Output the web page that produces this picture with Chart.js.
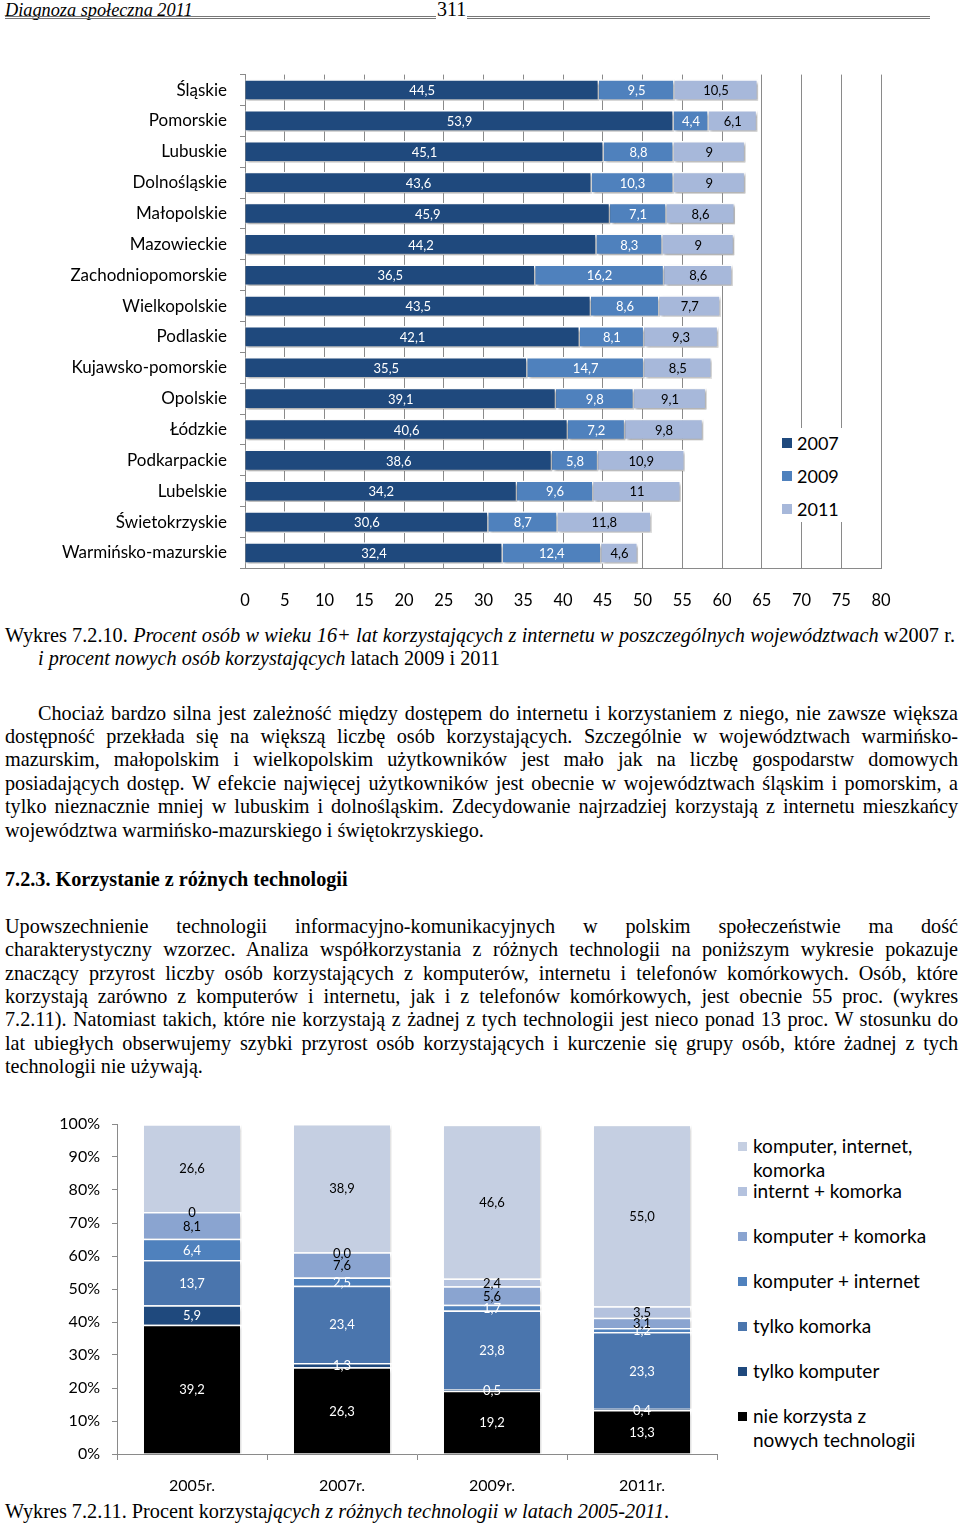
<!DOCTYPE html>
<html lang="pl">
<head>
<meta charset="UTF-8">
<title>Diagnoza społeczna 2011 - s. 311</title>
<script src="https://cdn.jsdelivr.net/npm/chart.js@4.4.0/dist/chart.umd.min.js"></script>
<style>
    html, body {
        margin: 0;
        padding: 0;
        background: #fff;
    }
    body {
        position: relative;
        width: 960px;
        height: 1524px;
        overflow: hidden;
        font-family: "Liberation Serif", "Times New Roman", serif;
        color: #000;
    }
    .abs { position: absolute; }
    .ln {
        position: absolute;
        left: 5px;
        width: 953px;
        height: 23px;
        line-height: 23px;
        font-size: 20.2px;
        text-align: justify;
        text-align-last: justify;
        white-space: nowrap;
    }
    .ln.last { text-align-last: left; }
    .ln.cap { font-size: 20.25px; }
    .rule {
        position: absolute;
        top: 16px;
        height: 1px;
        border-top: 1px solid #777;
        border-bottom: 1px solid #777;
    }
    .box { position: absolute; }
    .leg {
        position: absolute;
        font-family: Lato, "Open Sans", sans-serif;
        color: #000;
    }
    .leg .sw {
        position: absolute;
        display: block;
    }
</style>
</head>
<body>
    <!-- nagłówek strony -->
    <div class="abs" style="left:5px;top:0;font-size:18.3px;line-height:20px;font-style:italic;">Diagnoza społeczna 2011</div>
    <div class="abs" style="left:437px;top:-1px;font-size:20px;line-height:20px;">311</div>
    <div class="rule" style="left:5px;width:431px;"></div>
    <div class="rule" style="left:467px;width:463px;"></div>

    <!-- wykres 7.2.10 -->
    <div class="box" style="left:0;top:60px;width:900px;height:560px;"><canvas id="chart1"></canvas></div>
    <div class="leg" id="legend1" style="left:768px;top:428px;width:108px;height:94px;background:#fff;"></div>

    <div class="ln cap" style="top:624px;width:950px;">Wykres 7.2.10. <i>Procent osób w wieku 16+ lat korzystających z internetu w poszczególnych województwach</i> w2007 r.</div>
    <div class="ln cap last" style="top:647px;left:38px;"><i>i procent nowych osób korzystających</i> latach 2009 i 2011</div>

    <div class="ln" style="top:702px;left:38px;width:920px;">Chociaż bardzo silna jest zależność między dostępem do internetu i korzystaniem z niego, nie zawsze większa</div>
    <div class="ln" style="top:725px;">dostępność przekłada się na większą liczbę osób korzystających. Szczególnie w województwach warmińsko-</div>
    <div class="ln" style="top:748px;">mazurskim, małopolskim i wielkopolskim użytkowników jest mało jak na liczbę gospodarstw domowych</div>
    <div class="ln" style="top:772px;">posiadających dostęp. W efekcie najwięcej użytkowników jest obecnie w województwach śląskim i pomorskim, a</div>
    <div class="ln" style="top:795px;">tylko nieznacznie mniej w lubuskim i dolnośląskim. Zdecydowanie najrzadziej korzystają z internetu mieszkańcy</div>
    <div class="ln last" style="top:819px;">województwa warmińsko-mazurskiego i świętokrzyskiego.</div>

    <div class="ln last" style="top:868px;font-weight:bold;">7.2.3. Korzystanie z różnych technologii</div>

    <div class="ln" style="top:915px;">Upowszechnienie technologii informacyjno-komunikacyjnych w polskim społeczeństwie ma dość</div>
    <div class="ln" style="top:938px;">charakterystyczny wzorzec. Analiza współkorzystania z różnych technologii na poniższym wykresie pokazuje</div>
    <div class="ln" style="top:962px;">znaczący przyrost liczby osób korzystających z komputerów, internetu i telefonów komórkowych. Osób, które</div>
    <div class="ln" style="top:985px;">korzystają zarówno z komputerów i internetu, jak i z telefonów komórkowych, jest obecnie 55 proc. (wykres</div>
    <div class="ln" style="top:1008px;">7.2.11). Natomiast takich, które nie korzystają z żadnej z tych technologii jest nieco ponad 13 proc. W stosunku do</div>
    <div class="ln" style="top:1032px;">lat ubiegłych obserwujemy szybki przyrost osób korzystających i kurczenie się grupy osób, które żadnej z tych</div>
    <div class="ln last" style="top:1055px;">technologii nie używają.</div>

    <!-- wykres 7.2.11 -->
    <div class="box" style="left:0;top:1105px;width:720px;height:395px;"><canvas id="chart2"></canvas></div>
    <div class="leg" id="legend2" style="left:730px;top:1130px;width:230px;height:330px;"></div>

    <div class="ln cap last" style="top:1500px;">Wykres 7.2.11. Procent korzysta<i>jących z różnych technologii w latach 2005-2011</i>.</div>

<script>
    // --- Wykres 7.2.10: województwa ---
    const regions = ['Śląskie', 'Pomorskie', 'Lubuskie', 'Dolnośląskie', 'Małopolskie', 'Mazowieckie',
        'Zachodniopomorskie', 'Wielkopolskie', 'Podlaskie', 'Kujawsko-pomorskie', 'Opolskie', 'Łódzkie',
        'Podkarpackie', 'Lubelskie', 'Świetokrzyskie', 'Warmińsko-mazurskie'];
    const users2007 = [44.5, 53.9, 45.1, 43.6, 45.9, 44.2, 36.5, 43.5, 42.1, 35.5, 39.1, 40.6, 38.6, 34.2, 30.6, 32.4];
    const users2009 = [9.5, 4.4, 8.8, 10.3, 7.1, 8.3, 16.2, 8.6, 8.1, 14.7, 9.8, 7.2, 5.8, 9.6, 8.7, 12.4];
    const users2011 = [10.5, 6.1, 9, 9, 8.6, 9, 8.6, 7.7, 9.3, 8.5, 9.1, 9.8, 10.9, 11, 11.8, 4.6];
    const yearLabels = ['2007', '2009', '2011'];
    const yearColors = ['#1f497d', '#4f81bd', '#a7b8da'];
    const yearTextColors = ['#fff', '#fff', '#000'];

    // --- Wykres 7.2.11: technologie ---
    const periods = ['2005r.', '2007r.', '2009r.', '2011r.'];
    // od dołu słupka do góry
    const techNames = ['nie korzysta z nowych technologii', 'tylko komputer', 'tylko komorka',
        'komputer + internet', 'komputer + komorka', 'internt + komorka', 'komputer, internet, komorka'];
    const techNone      = [39.2, 26.3, 19.2, 13.3];
    const techPcOnly    = [5.9, 1.3, 0.5, 0.4];
    const techPhoneOnly = [13.7, 23.4, 23.8, 23.3];
    const techPcNet     = [6.4, 2.5, 1.7, 1.2];
    const techPcPhone   = [8.1, 7.6, 5.6, 3.1];
    const techNetPhone  = [0, 0.0, 2.4, 3.5];
    const techAll       = [26.6, 38.9, 46.6, 55.0];
    const techColors = ['#000000', '#1f497d', '#4a75ad', '#4f81bd', '#8aa4d0', '#b4c2de', '#c5cfe2'];
    const techTextColors = ['#fff', '#fff', '#fff', '#fff', '#000', '#000', '#000'];
    const percentTicks = ['0%', '10%', '20%', '30%', '40%', '50%', '60%', '70%', '80%', '90%', '100%'];

    const labelFont = '13px Lato, "Open Sans", sans-serif';
    const fontFamily = 'Lato, "Open Sans", sans-serif';
    const axisGray = '#8a8a8a';

    // podpisy wartości na środku segmentów
    const barLabels = {
        id: 'barLabels',
        afterDatasetsDraw(chart, args, opts) {
            const ctx = chart.ctx;
            ctx.save();
            ctx.font = labelFont;
            ctx.textAlign = 'center';
            ctx.textBaseline = 'middle';
            chart.data.datasets.forEach((ds, i) => {
                const meta = chart.getDatasetMeta(i);
                meta.data.forEach((bar, j) => {
                    const p = bar.getCenterPoint();
                    ctx.fillStyle = opts.colors[i];
                    ctx.fillText(opts.format(ds.data[j], i, j), p.x, p.y + 1);
                });
            });
            ctx.restore();
        }
    };

    // lekki cień pod słupkami
    const barShadow = {
        id: 'barShadow',
        beforeDatasetsDraw(chart, args, opts) {
            const ctx = chart.ctx;
            ctx.save();
            ctx.shadowColor = opts.color;
            ctx.shadowBlur = 3;
            ctx.shadowOffsetX = 2;
            ctx.shadowOffsetY = 2;
        },
        afterDatasetsDraw(chart) {
            chart.ctx.restore();
        }
    };

    function comma(v) {
        return String(v).replace('.', ',');
    }

    // bez dodatkowego marginesu od etykiet osi - obszar wykresu ustawiamy sami
    function noPad(scale) {
        scale.paddingTop = 0;
        scale.paddingBottom = 0;
        scale.paddingLeft = 0;
        scale.paddingRight = 0;
    }

    new Chart(document.getElementById('chart1'), {
        type: 'bar',
        data: {
            labels: regions,
            datasets: [users2007, users2009, users2011].map((d, i) => ({
                label: yearLabels[i],
                data: d,
                backgroundColor: yearColors[i],
                borderColor: '#fff',
                borderWidth: 1.5,
                barThickness: 21
            }))
        },
        options: {
            indexAxis: 'y',
            responsive: true,
            maintainAspectRatio: false,
            animation: false,
            layout: { padding: { top: 14.6, right: 19, left: 0, bottom: 0 } },
            scales: {
                x: {
                    stacked: true,
                    min: 0,
                    max: 80,
                    ticks: { stepSize: 5, color: '#000', font: { family: fontFamily, size: 16.5 }, padding: 22 },
                    grid: { color: axisGray, drawTicks: false },
                    border: { color: axisGray },
                    afterFit(scale) { scale.height = 51.6; noPad(scale); }
                },
                y: {
                    stacked: true,
                    ticks: { color: '#000', font: { family: fontFamily, size: 17 }, padding: 13 },
                    grid: { drawOnChartArea: false, color: axisGray, tickLength: 5 },
                    border: { color: axisGray },
                    afterFit(scale) { scale.width = 245; noPad(scale); }
                }
            },
            plugins: {
                legend: { display: false },
                tooltip: { enabled: false },
                barShadow: { color: 'rgba(0,0,0,0.35)' },
                barLabels: { colors: yearTextColors, format: v => comma(v) }
            }
        },
        plugins: [barShadow, barLabels]
    });

    const techSeries = [techNone, techPcOnly, techPhoneOnly, techPcNet, techPcPhone, techNetPhone, techAll];

    new Chart(document.getElementById('chart2'), {
        type: 'bar',
        data: {
            labels: periods,
            datasets: techSeries.map((d, i) => ({
                label: techNames[i],
                data: d,
                backgroundColor: techColors[i],
                borderColor: '#fff',
                borderWidth: 1.5,
                barPercentage: 0.66,
                categoryPercentage: 1
            }))
        },
        options: {
            responsive: true,
            maintainAspectRatio: false,
            animation: false,
            layout: { padding: { top: 19, right: 3, left: 0, bottom: 0 } },
            scales: {
                x: {
                    stacked: true,
                    ticks: { color: '#000', font: { family: fontFamily, size: 16 }, padding: 16 },
                    grid: { drawOnChartArea: false, color: axisGray, tickLength: 6 },
                    border: { color: axisGray },
                    afterFit(scale) { scale.height = 46; noPad(scale); }
                },
                y: {
                    stacked: true,
                    min: 0,
                    max: 100,
                    ticks: {
                        stepSize: 10,
                        color: '#000',
                        font: { family: fontFamily, size: 16 },
                        padding: 12,
                        callback: (v) => percentTicks[Math.round(v / 10)]
                    },
                    grid: { drawOnChartArea: false, color: axisGray, tickLength: 5 },
                    border: { color: axisGray },
                    afterFit(scale) { scale.width = 117; noPad(scale); }
                }
            },
            plugins: {
                legend: { display: false },
                tooltip: { enabled: false },
                barShadow: { color: 'rgba(0,0,0,0.15)' },
                barLabels: {
                    colors: techTextColors,
                    // w 2005 zero podpisane bez miejsca po przecinku
                    format: (v, i, j) => (v === 0 && j === 0) ? '0' : v.toFixed(1).replace('.', ',')
                }
            }
        },
        plugins: [barShadow, barLabels]
    });

    // legendy w HTML (pozycje jak w oryginale)
    function addLegendItem(box, color, lines, top, swLeft, txtLeft, size, swSize) {
        const sw = document.createElement('span');
        sw.className = 'sw';
        sw.style.cssText = `left:${swLeft}px;top:${top + 12 - swSize / 2}px;width:${swSize}px;height:${swSize}px;background:${color};`;
        box.appendChild(sw);
        lines.forEach((t, k) => {
            const d = document.createElement('div');
            d.style.cssText = `position:absolute;left:${txtLeft}px;top:${top + k * 24}px;line-height:24px;font-size:${size}px;white-space:nowrap;`;
            d.textContent = t;
            box.appendChild(d);
        });
    }

    const leg1 = document.getElementById('legend1');
    yearLabels.forEach((y, i) => addLegendItem(leg1, yearColors[i], [y], 3 + i * 33, 14, 29, 18, 10));

    const leg2 = document.getElementById('legend2');
    const leg2Lines = [['komputer, internet,', 'komorka'], ['internt + komorka'], ['komputer + komorka'],
        ['komputer + internet'], ['tylko komorka'], ['tylko komputer'], ['nie korzysta z', 'nowych technologii']];
    const leg2Tops = [4, 49, 94, 139, 184, 229, 274];
    for (let k = 0; k < 7; k++) {
        const i = 6 - k;
        addLegendItem(leg2, techColors[i], leg2Lines[k], leg2Tops[k], 8, 23, 19, 9);
    }
</script>
</body>
</html>
